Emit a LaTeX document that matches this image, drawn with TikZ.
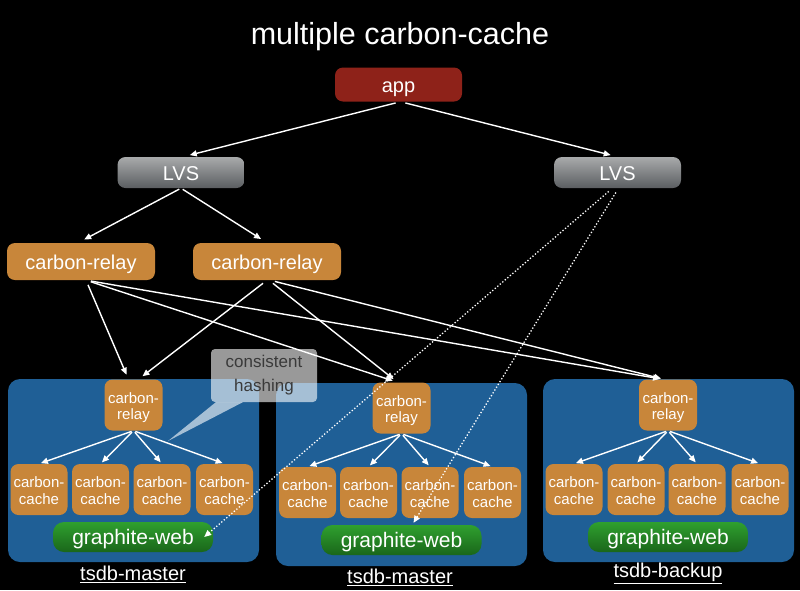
\documentclass[tikz,border=0pt]{standalone}
\usepackage{fontspec}
\setmainfont{Liberation Sans}
\usetikzlibrary{arrows.meta}

\definecolor{apprd}{HTML}{8E2219}
\definecolor{relayor}{HTML}{C8863A}
\definecolor{panelbl}{HTML}{1F5F96}
\definecolor{lvstop}{HTML}{A8AAAB}
\definecolor{lvsbot}{HTML}{5B5E61}
\definecolor{webtop}{HTML}{2FA02F}
\definecolor{webbot}{HTML}{1A661A}
\definecolor{hashtxt}{HTML}{3A3A3A}

\begin{document}
\begin{tikzpicture}[x=1pt, y=-1pt,
  box/.style={rounded corners=8pt, text=white, inner sep=0pt, align=center},
  onelinebox/.style={box, text height=17pt, text depth=2pt, font=\fontsize{20}{24}\selectfont},
  twolinebox/.style={box, fill=relayor, text height=31pt, text depth=2pt, font=\fontsize{15}{16.5}\selectfont},
  appbox/.style={onelinebox, fill=apprd, minimum width=127pt, minimum height=34pt},
  lvsbox/.style={onelinebox, top color=lvstop, bottom color=lvsbot, minimum width=127pt, minimum height=31pt},
  relaybox/.style={onelinebox, fill=relayor, minimum width=148pt, minimum height=37pt},
  smallrelay/.style={twolinebox, minimum width=58pt, minimum height=51pt},
  cachebox/.style={twolinebox, minimum width=57pt, minimum height=51pt},
  webbox/.style={box, rounded corners=11pt, top color=webtop, bottom color=webbot, minimum width=160pt, minimum height=30pt,
    text height=16pt, text depth=2pt, font=\fontsize{21}{24}\selectfont},
  panel/.style={rounded corners=12pt, fill=panelbl, inner sep=0pt, minimum width=251pt, minimum height=183pt},
  hostlabel/.style={text=white, font=\fontsize{20}{24}\selectfont},
  conn/.style={white, line width=1.4pt, -{Triangle[length=7pt,width=6pt]}, shorten <=2pt, shorten >=2pt},
  dconn/.style={white, line width=1.3pt, dotted, -{Triangle[length=7pt,width=6pt]}},
]
% background and margins
\fill[black] (0,0) rectangle (800,590);
\useasboundingbox (0,0) rectangle (800,590);

% title
\node[text=white, font=\fontsize{30.5}{36}\selectfont] (title) at (400,37) {multiple carbon-cache};

% top of the tree
\node[appbox] (app) at (398.5,84.5) {app};
\node[lvsbox] (lvsL) at (181,172.5) {LVS};
\node[lvsbox] (lvsR) at (617.5,172.5) {LVS};
\node[relaybox] (crL) at (81,261.5) {carbon-relay};
\node[relaybox] (crR) at (267,261.5) {carbon-relay};

% the three hosts
\node[panel] (p1) at (133.5,470.5) {};
\node[panel] (p2) at (401.5,474.5) {};
\node[panel] (p3) at (668.5,470.5) {};

% host 1
\node[smallrelay] (r1) at (133.5,405) {carbon-\\relay};
\node[cachebox] (c11) at (39,489.5) {carbon-\\cache};
\node[cachebox] (c12) at (100.5,489.5) {carbon-\\cache};
\node[cachebox] (c13) at (162,489.5) {carbon-\\cache};
\node[cachebox] (c14) at (224.5,489.5) {carbon-\\cache};
\node[webbox] (web1) at (133,537) {graphite-web};
\node[hostlabel] (h1) at (133,574) {\underline{tsdb-master}};

% host 2
\node[smallrelay] (r2) at (401.5,408) {carbon-\\relay};
\node[cachebox] (c21) at (307.5,492.5) {carbon-\\cache};
\node[cachebox] (c22) at (368.5,492.5) {carbon-\\cache};
\node[cachebox] (c23) at (430,492.5) {carbon-\\cache};
\node[cachebox] (c24) at (492.5,492.5) {carbon-\\cache};
\node[webbox] (web2) at (401.5,540) {graphite-web};
\node[hostlabel] (h2) at (400,577) {\underline{tsdb-master}};

% host 3
\node[smallrelay] (r3) at (668,405) {carbon-\\relay};
\node[cachebox] (c31) at (574,489.5) {carbon-\\cache};
\node[cachebox] (c32) at (636,489.5) {carbon-\\cache};
\node[cachebox] (c33) at (697,489.5) {carbon-\\cache};
\node[cachebox] (c34) at (760,489.5) {carbon-\\cache};
\node[webbox] (web3) at (668,537) {graphite-web};
\node[hostlabel] (h3) at (668,573) {\underline{tsdb-backup}};

% app -> LVS -> relays
\draw[conn, shorten <=5pt, shorten >=7pt] ([xshift=2pt]app.south) -- ([xshift=2pt]lvsL.north);
\draw[conn, shorten <=5pt, shorten >=7pt] ([xshift=2pt]app.south) -- (lvsR.north);
\draw[conn, shorten >=7pt] (lvsL.south) -- ([xshift=-3pt]crL.north);
\draw[conn, shorten >=7pt] (lvsL.south) -- (crR.north);

% relays -> relays on the hosts
\draw[conn, shorten <=5pt, shorten >=5pt] ([xshift=5pt]crL.south) -- ([xshift=-5pt]r1.north);
\draw[conn, shorten <=5pt, shorten >=5pt] ([xshift=5pt]crL.south) -- ([xshift=-4pt]r2.north);
\draw[conn, shorten <=5pt, shorten >=3pt] ([xshift=5pt]crL.south) -- ([xshift=-5pt]r3.north);
\draw[conn, shorten <=5pt, shorten >=5pt] (crR.south) -- ([xshift=5pt]r1.north);
\draw[conn, shorten <=5pt, shorten >=5pt] ([xshift=2pt]crR.south) -- ([xshift=-4pt]r2.north);
\draw[conn, shorten <=5pt, shorten >=3pt] ([xshift=3pt]crR.south) -- ([xshift=-4pt]r3.north);

% inside the hosts
\draw[conn] (r1.south) -- (c11.north);
\draw[conn] (r1.south) -- (c12.north);
\draw[conn] (r1.south) -- (c13.north);
\draw[conn] (r1.south) -- (c14.north);
\draw[conn] (r2.south) -- (c21.north);
\draw[conn] (r2.south) -- (c22.north);
\draw[conn] (r2.south) -- (c23.north);
\draw[conn] (r2.south) -- (c24.north);
\draw[conn] (r3.south) -- (c31.north);
\draw[conn] (r3.south) -- (c32.north);
\draw[conn] (r3.south) -- (c33.north);
\draw[conn] (r3.south) -- (c34.north);

% reads from the second LVS
\draw[dconn, shorten <=5pt] ([xshift=-5pt]lvsR.south) -- ([xshift=-9pt]web1.east);
\draw[dconn, shorten <=5pt] ([xshift=1pt]lvsR.south) -- ([xshift=12pt, yshift=2pt]web2.north);

% callout
\node[rounded corners=4pt, fill=white, fill opacity=0.6, text opacity=1, text=hashtxt, align=center,
  minimum width=106pt, minimum height=53pt, inner sep=0pt, font=\fontsize{17}{24}\selectfont] (hash) at (264,375.5) {consistent\\hashing};
\coordinate (hashtip) at (168,441);
\fill[white, fill opacity=0.6] ([xshift=5pt]hash.south west) -- ([xshift=32pt]hash.south west) -- (hashtip) -- cycle;
\end{tikzpicture}
\end{document}
